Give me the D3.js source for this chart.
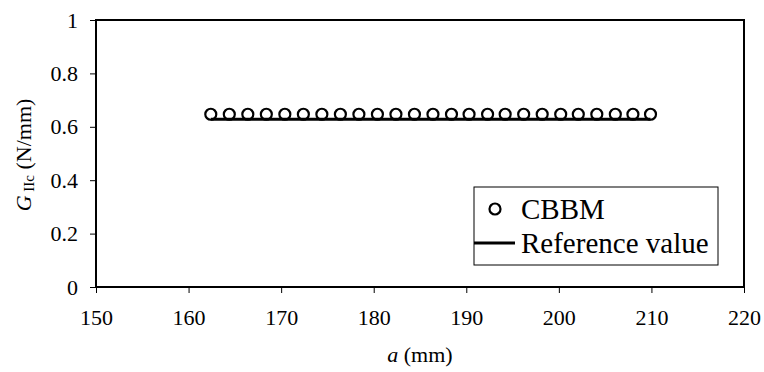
<!DOCTYPE html>
<html>
<head>
<meta charset="utf-8">
<script src="https://cdn.jsdelivr.net/npm/d3@7"></script>
<style>
  body { margin: 0; background: #fff; }
  svg text { font-family: "Liberation Serif", "Times New Roman", serif; fill: #000; }
</style>
</head>
<body>
<svg id="chart" width="764" height="372"></svg>
<script>
// crack length a (mm) and CBBM values
var crackLength = [162.4, 164.4, 166.4, 168.4, 170.4, 172.4, 174.4, 176.4, 178.4, 180.4,
  182.4, 184.4, 186.4, 188.4, 190.3, 192.3, 194.2, 196.2, 198.2, 200.2,
  202.1, 204.1, 206.1, 208.0, 209.9]
var cbbm = [0.647, 0.647, 0.647, 0.647, 0.647, 0.647, 0.647, 0.647, 0.647, 0.647,
  0.647, 0.647, 0.647, 0.647, 0.647, 0.647, 0.647, 0.647, 0.647, 0.647,
  0.647, 0.647, 0.647, 0.647, 0.647]
var refA = [162.4, 209.9]
var refValue = [0.628, 0.628]
var xTicks = [150, 160, 170, 180, 190, 200, 210, 220]
var yTicks = [0, 0.2, 0.4, 0.6, 0.8, 1]

var margin = { left: 96, right: 20, top: 20, bottom: 85 }
var width = 764, height = 372

var x = d3.scaleLinear().domain([150, 220]).range([margin.left, width - margin.right])
var y = d3.scaleLinear().domain([0, 1]).range([height - margin.bottom, margin.top])

var svg = d3.select('#chart')

// frame
svg.append('rect')
    .attr('x', x(150)).attr('y', y(1))
    .attr('width', x(220) - x(150)).attr('height', y(0) - y(1))
    .attr('fill', 'none').attr('stroke', '#000').attr('stroke-width', 2)

var xAxis = svg.append('g')
    .attr('transform', 'translate(0,' + y(0) + ')')
    .call(d3.axisBottom(x).tickValues(xTicks).tickSizeInner(6).tickSizeOuter(0).tickPadding(16))
var yAxis = svg.append('g')
    .attr('transform', 'translate(' + x(150) + ',0)')
    .call(d3.axisLeft(y).tickValues(yTicks).tickFormat(d3.format('')).tickSizeInner(6).tickSizeOuter(0).tickPadding(12))

svg.selectAll('.domain').remove()
svg.selectAll('.tick line').attr('stroke', '#000').attr('stroke-width', 1)
svg.selectAll('.tick text').attr('font-size', 22).attr('font-family', 'Liberation Serif')

// CBBM circles
svg.append('g').selectAll('circle')
    .data(crackLength)
    .enter().append('circle')
    .attr('cx', function (d) { return x(d) })
    .attr('cy', function (d, i) { return y(cbbm[i]) })
    .attr('r', 5.5)
    .attr('fill', 'none')
    .attr('stroke', '#000')
    .attr('stroke-width', 2.2)

// reference line
var line = d3.line().x(function (d) { return x(d) }).y(function (d, i) { return y(refValue[i]) })
svg.append('path')
    .attr('d', line(refA))
    .attr('fill', 'none').attr('stroke', '#000').attr('stroke-width', 3)

// axis titles
var xt = svg.append('text')
    .attr('x', x(185)).attr('y', 362)
    .attr('text-anchor', 'middle').attr('font-size', 22)
xt.append('tspan').attr('font-style', 'italic').text('a')
xt.append('tspan').text('  (mm)')

var yt = svg.append('text')
    .attr('transform', 'translate(31,155) rotate(-90)')
    .attr('text-anchor', 'middle').attr('font-size', 22)
yt.append('tspan').attr('font-style', 'italic').text('G')
yt.append('tspan').attr('font-size', 15).attr('dy', 3).text(' IIc')
yt.append('tspan').attr('dy', -3).text(' (N/mm)')

// legend
var lg = svg.append('g')
lg.append('rect')
    .attr('x', 474).attr('y', 187).attr('width', 244).attr('height', 78)
    .attr('fill', '#fff').attr('stroke', '#000').attr('stroke-width', 1)
lg.append('circle')
    .attr('cx', 495).attr('cy', 209).attr('r', 5.5)
    .attr('fill', 'none').attr('stroke', '#000').attr('stroke-width', 2.2)
lg.append('line')
    .attr('x1', 474).attr('x2', 515).attr('y1', 243).attr('y2', 243)
    .attr('stroke', '#000').attr('stroke-width', 3)
lg.append('text').attr('x', 521).attr('y', 219).attr('font-size', 29).text('CBBM')
lg.append('text').attr('x', 521).attr('y', 253).attr('font-size', 29).text('Reference value')
</script>
</body>
</html>
